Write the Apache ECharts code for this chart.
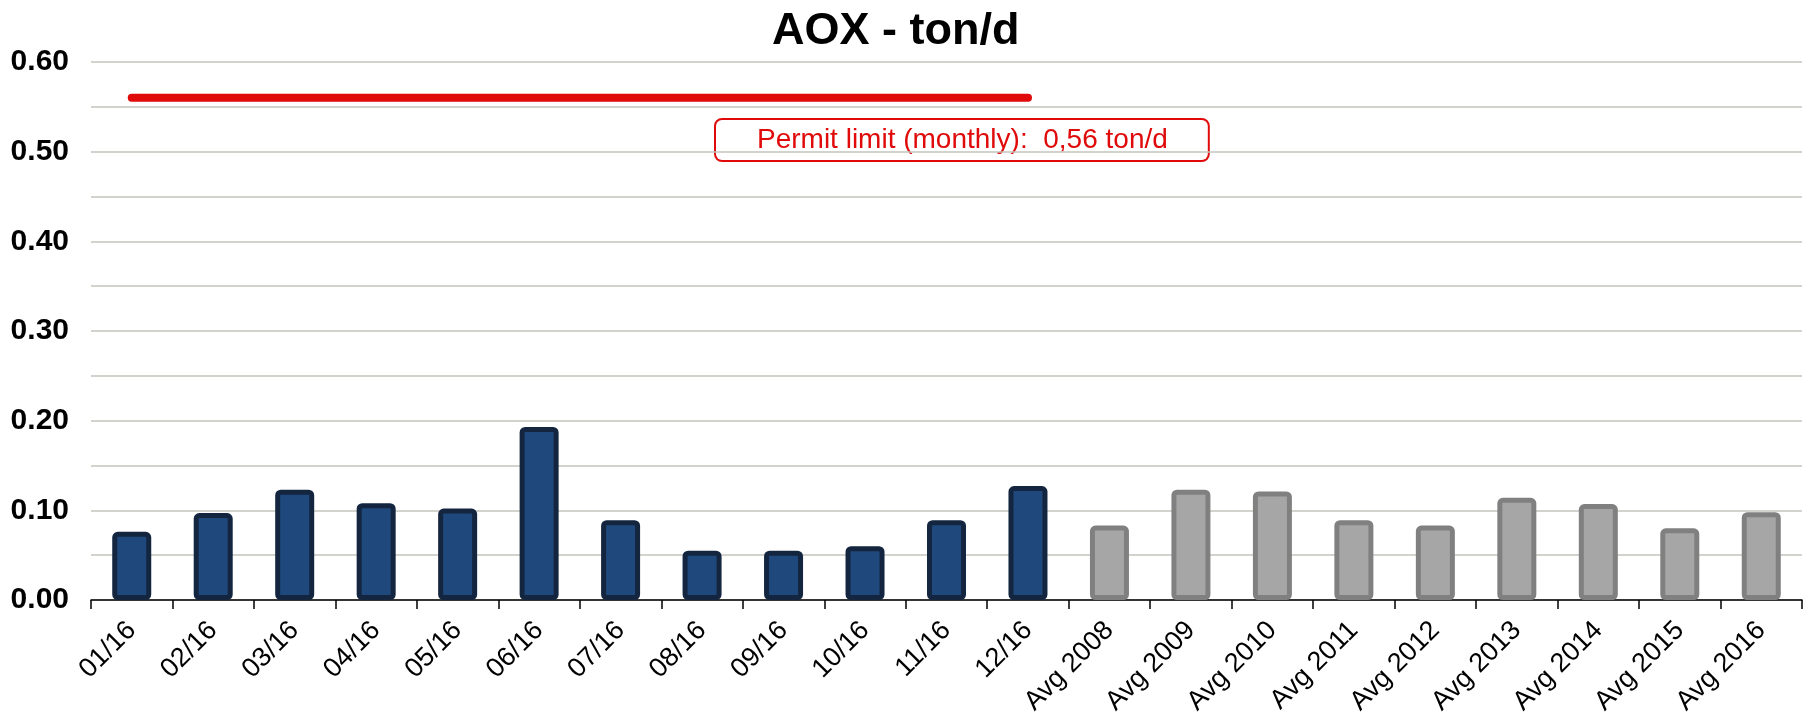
<!DOCTYPE html>
<html>
<head>
<meta charset="utf-8">
<title>AOX - ton/d</title>
<script src="https://cdn.jsdelivr.net/npm/echarts@6/dist/echarts.min.js"></script>
<style>
  html, body { margin: 0; padding: 0; background: #fff; }
  #chart { width: 1810px; height: 725px; }
</style>
</head>
<body>
<div id="chart"></div>
<script>
// categories
var months = ['01/16', '02/16', '03/16', '04/16', '05/16', '06/16', '07/16', '08/16', '09/16', '10/16', '11/16', '12/16']
var years = ['Avg 2008', 'Avg 2009', 'Avg 2010', 'Avg 2011', 'Avg 2012', 'Avg 2013', 'Avg 2014', 'Avg 2015', 'Avg 2016']

// values (ton/d)
var monthlyValues = [0.076, 0.097, 0.123, 0.108, 0.102, 0.193, 0.089, 0.055, 0.055, 0.060, 0.089, 0.127]
var yearlyValues = [0.083, 0.123, 0.121, 0.089, 0.083, 0.114, 0.107, 0.080, 0.098]

// permit limit line: value and the span it covers (01/16 .. 12/16, in category units)
var permitLimit = 0.56
var permitSpan = [0.5, 11.5]

var categories = months.concat(years)
var monthlyData = monthlyValues.concat(years.map(function () { return '-' }))
var yearlyData = months.map(function () { return '-' }).concat(yearlyValues)

var chart = echarts.init(document.getElementById('chart'))
chart.setOption({
  animation: false,
  title: {
    text: 'AOX - ton/d',
    left: 767,
    top: 4,
    textStyle: {
      fontFamily: 'Liberation Sans',
      fontWeight: 'bold',
      fontSize: 45,
      color: '#000'
    }
  },
  grid: {
    left: 91,
    right: 8,
    top: 62,
    bottom: 125
  },
  xAxis: [
    {
      type: 'category',
      data: categories,
      axisLine: { lineStyle: { color: '#000', width: 1.5 } },
      axisTick: { show: true, length: 9, lineStyle: { color: '#000', width: 1.5 } },
      axisLabel: {
        rotate: 45,
        interval: 0,
        margin: 26,
        color: '#000',
        fontFamily: 'Liberation Sans',
        fontSize: 27
      }
    },
    {
      type: 'value',
      min: 0,
      max: categories.length,
      show: false
    }
  ],
  yAxis: {
    type: 'value',
    min: 0,
    max: 0.6,
    interval: 0.05,
    axisLine: { show: false },
    axisTick: { show: false },
    axisLabel: {
      margin: 22,
      color: '#000',
      fontFamily: 'Liberation Sans',
      fontWeight: 'bold',
      fontSize: 30,
      formatter: function (v) {
        return Math.round(v * 100) % 10 === 0 ? v.toFixed(2) : ''
      }
    },
    splitLine: { lineStyle: { color: '#c4c4bc', width: 1.5 } }
  },
  series: [
    {
      name: 'Monthly',
      type: 'bar',
      data: monthlyData,
      barWidth: 39,
      barGap: '-100%',
      itemStyle: {
        color: '#1f497d',
        borderColor: '#14263f',
        borderWidth: 5,
        borderRadius: 3
      }
    },
    {
      name: 'Yearly average',
      type: 'bar',
      data: yearlyData,
      barWidth: 39,
      barGap: '-100%',
      itemStyle: {
        color: '#a6a6a6',
        borderColor: '#808080',
        borderWidth: 5,
        borderRadius: 3
      }
    },
    {
      name: 'Permit limit',
      type: 'line',
      xAxisIndex: 1,
      data: permitSpan.map(function (x) { return [x, permitLimit] }),
      symbol: 'none',
      lineStyle: { color: '#e00a0a', width: 8, cap: 'round' },
      z: 5
    }
  ],
  graphic: [
    {
      type: 'text',
      left: 714,
      top: 118,
      style: {
        text: 'Permit limit (monthly):  0,56 ton/d',
        fill: '#e00a0a',
        font: '28px "Liberation Sans"',
        padding: [6, 40, 6, 41],
        borderColor: '#e00a0a',
        borderWidth: 2,
        borderRadius: 6,
        backgroundColor: '#fff'
      }
    }
  ]
})
</script>
</body>
</html>
